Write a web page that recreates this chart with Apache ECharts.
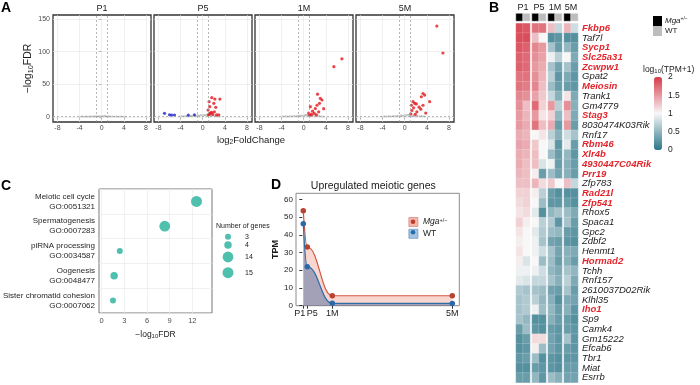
<!DOCTYPE html>
<html><head><meta charset="utf-8">
<script src="https://cdn.jsdelivr.net/npm/echarts@6/dist/echarts.min.js"></script>
<style>html,body{margin:0;padding:0;background:#fff}#c{width:700px;height:385px}</style>
</head><body><div id="c"></div>
<script>
// ---------------- DATA ----------------
const volcanoPanels = ['P1', 'P5', '1M', '5M'];
const volcanoXTicks = [-8, -4, 0, 4, 8];
const volcanoYTicks = [0, 50, 100, 150];
const volcanoGray = [
  [[-4,0.3],[-3.6,0.5],[-3.2,0.4],[-2.8,0.6],[-2.5,0.3],[-2.1,0.5],[-1.8,0.7],[-1.5,0.4],[-1.2,0.9],[-0.9,0.6],[-0.6,1.1],[-0.3,0.8],[0,1.2],[0.3,0.9],[0.6,1.4],[0.9,0.7],[1.2,1.0],[1.5,0.5],[1.9,0.8],[2.3,0.4],[2.7,0.6],[3.1,0.3],[3.5,0.5],[3.9,0.4],[4.3,0.3]],
  [[-4.2,0.8],[-3.8,1.2],[-3.4,0.9],[-3,1.5],[-2.6,1.1],[-2.2,1.8],[-1.9,1.3],[-1.5,2],[-1.2,1.6],[-0.9,2.4],[-0.6,1.9],[-0.3,2.8],[0,2.2],[0.3,3.1],[0.5,2.5],[0.8,3.5],[1.1,2.8],[1.4,1.9],[1.8,2.4],[2.2,1.5],[2.6,1.1],[3,0.7]],
  [[-3.8,0.5],[-3.3,0.9],[-2.9,0.6],[-2.5,1.2],[-2.1,0.8],[-1.7,1.5],[-1.3,1.1],[-1,1.9],[-0.7,1.4],[-0.4,2.3],[-0.1,1.7],[0.2,2.6],[0.4,3.4],[0.6,2.1],[0.8,3.8],[1.0,2.4],[1.3,1.6],[1.6,2.2],[2.0,1.3],[2.4,0.9],[2.8,1.5],[3.2,0.7],[3.6,0.4]],
  [[-4.1,0.4],[-3.7,0.8],[-3.3,0.6],[-2.9,1.1],[-2.5,0.7],[-2.1,1.4],[-1.7,0.9],[-1.3,1.8],[-0.9,1.2],[-0.6,2.4],[-0.3,1.6],[0,2.9],[0.3,2.0],[0.6,3.3],[0.9,2.3],[1.2,1.5],[1.5,2.6],[1.9,1.1],[2.3,1.8],[2.7,0.9],[3.1,1.3],[3.5,0.6]]
];
const volcanoRed = [
  [],
  [[1.64,29.6],[2.2,27.5],[3.1,27.5],[1.15,23.4],[2.0,21],[1.27,15.8],[2.36,14.8],[0.97,10.7],[1.6,7.2],[2.5,3.2],[1.2,4.5],[1.8,4.0],[1.4,6],[2.1,8],[1.05,3.5],[2.9,3.4]],
  [[5.45,77],[6.9,89],[2.5,35],[3.0,28.6],[2.85,21],[3.3,26],[2.4,18],[3.6,12.7],[2.1,13],[1.2,15.8],[1.6,9],[0.9,6],[1.4,4],[1.9,5.5],[2.3,3.5],[1.1,3],[2.7,8]],
  [[5.8,139],[6.9,98],[3.3,36],[3.6,33.6],[3.0,31],[4.5,23.4],[1.5,23.4],[1.8,21],[2.1,20],[3.3,18],[1.2,18],[2.6,15],[1.6,14],[2.9,12],[1.3,10],[2.2,8],[3.8,6],[1.1,5],[1.9,4]]
];
const volcanoBlue = [
  [],
  [[-6.9,5.6],[-6.0,3.4],[-5.6,3.0],[-5.1,3.1],[-2.6,2.9],[-1.5,3.3]],
  [],
  []
];

const heatGroups = ['P1', 'P5', '1M', '5M'];
const heatCols = ['Mga+/-', 'WT'];
const geneNames = ['Fkbp6','Taf7l','Sycp1','Slc25a31','Zcwpw1','Gpat2','Meiosin','Trank1','Gm4779','Stag3','8030474K03Rik','Rnf17','Rbm46','Xlr4b','4930447C04Rik','Prr19','Zfp783','Rad21l','Zfp541','Rhox5','Spaca1','Gpc2','Zdbf2','Henmt1','Hormad2','Tchh','Rnf157','2610037D02Rik','Klhl35','Iho1','Sp9','Camk4','Gm15222','Efcab6','Tbr1','Miat','Esrrb'];
const redGenes = ['Fkbp6','Sycp1','Slc25a31','Zcwpw1','Meiosin','Stag3','Rbm46','Xlr4b','4930447C04Rik','Prr19','Rad21l','Zfp541','Hormad2','Iho1'];
// columns: P1 Mga, P1 WT, P5 Mga, P5 WT, 1M Mga, 1M WT, 5M Mga, 5M WT  (log10(TPM+1))
const heatValues = [
[1.9,1.85,1.7,1.7,1.3,0.75,1.35,0.8],
[1.9,1.9,1.3,1.0,0.2,0.25,0.2,0.2],
[1.85,1.8,1.6,1.5,0.6,0.3,0.5,0.3],
[1.8,1.75,1.55,1.45,0.95,0.7,1.0,0.4],
[1.8,1.75,1.5,1.4,0.6,0.35,0.6,0.3],
[1.7,1.7,1.55,1.35,0.7,0.25,0.4,0.25],
[1.7,1.65,1.6,1.3,0.55,0.3,0.3,0.25],
[1.6,1.55,1.45,1.25,0.75,0.45,1.1,0.4],
[1.55,1.3,1.75,1.2,1.5,0.7,1.55,0.45],
[1.5,1.35,1.5,1.1,1.2,0.5,1.3,0.4],
[1.5,1.4,1.7,1.3,1.4,0.3,1.5,0.3],
[1.4,1.35,1.0,1.1,0.7,0.45,0.8,0.6],
[1.45,1.4,1.25,1.0,0.85,0.25,0.9,0.3],
[1.4,1.35,1.3,1.0,0.55,0.3,0.5,0.25],
[1.4,1.3,1.3,0.85,0.95,0.3,0.45,0.3],
[1.35,1.3,1.05,0.3,0.55,0.35,0.45,0.3],
[1.3,1.3,1.35,1.15,1.25,1.0,1.3,0.75],
[1.2,1.2,1.05,0.7,0.3,0.2,0.2,0.2],
[1.15,1.2,1.0,0.55,0.25,0.25,0.3,0.2],
[1.1,1.15,0.9,0.2,0.5,0.6,0.55,0.4],
[1.2,1.05,1.0,0.7,0.65,0.25,0.6,0.3],
[1.1,1.0,0.9,0.65,0.55,0.5,0.3,0.25],
[1.05,1.0,0.95,0.6,0.35,0.3,0.25,0.2],
[1.1,1.0,0.95,0.8,0.6,0.35,0.45,0.4],
[1.05,0.85,1.0,0.55,0.55,0.3,0.45,0.3],
[0.95,0.95,0.95,0.8,0.5,0.4,0.6,0.5],
[0.9,0.85,0.75,0.75,0.6,0.45,0.7,0.4],
[0.65,0.6,0.6,0.55,0.35,0.3,0.6,0.3],
[0.6,0.65,0.7,0.5,0.45,0.2,0.4,0.35],
[0.6,0.65,0.95,0.55,0.5,0.3,0.45,0.25],
[0.6,0.5,0.2,0.2,0.45,0.3,0.3,0.2],
[0.3,0.55,0.25,0.2,0.3,0.25,0.3,0.25],
[0.2,0.3,1.15,1.15,0.35,0.25,0.6,0.25],
[0.2,0.25,1.05,0.55,0.35,0.25,0.3,0.25],
[0.25,0.3,0.55,0.2,0.25,0.2,0.25,0.25],
[0.2,0.2,0.3,0.25,0.25,0.2,0.3,0.3],
[0.3,0.3,0.5,0.25,0.55,0.45,0.35,0.35]
];
const colorbarTicks = [0, 0.5, 1, 1.5, 2];

const goTerms = ['Meiotic cell cycle\nGO:0051321','Spermatogenesis\nGO:0007283','piRNA processing\nGO:0034587','Oogenesis\nGO:0048477','Sister chromatid cohesion\nGO:0007062'];
const goFDR = [12.55, 8.35, 2.4, 1.65, 1.5];
const goCount = [15, 14, 3, 4, 3];
const goXTicks = [0, 3, 6, 9, 12];
const sizeLegendValues = [3, 4, 14, 15];

const tpmLabels = ['P1', 'P5', '1M', '5M'];
const tpmDays = [1, 5, 30, 150];
const tpmMga = [53.5, 33.1, 5.6, 5.6];
const tpmWT = [46.2, 22.0, 1.35, 1.3];
const tpmYTicks = [0, 10, 20, 30, 40, 50, 60];

// ---------------- BUILD ----------------
const FONT = 'Liberation Sans, Arial, sans-serif';
const grids = [], xAxes = [], yAxes = [], series = [], graphics = [];
const G = o => Object.assign({outerBoundsMode: 'none', containLabel: false}, o);
const txt = (text, x, y, o = {}) => graphics.push({type: 'text', x, y, z: 100, rotation: o.rot || 0,
  style: Object.assign({text, fontFamily: FONT, fontSize: 10, fill: '#1a1a1a', align: 'center', verticalAlign: 'middle'}, o.style || {})});
const sub = (fs, color) => ({a: {fontSize: fs, fontFamily: FONT, color, fill: color},
  b: {fontSize: fs * 0.7, fontFamily: FONT, color, fill: color, verticalAlign: 'bottom', padding: [fs * 0.4, 0, 0, 0]}});

// Panel A : volcano
const vLefts = [53, 154, 255, 356];
volcanoPanels.forEach((p, i) => {
  grids.push(G({left: vLefts[i], top: 15, width: 98, height: 107, show: true, borderColor: '#333', borderWidth: 1.3, backgroundColor: '#fff'}));
  xAxes.push({gridIndex: i, type: 'value', min: -8.8, max: 8.9,
    axisLabel: {customValues: volcanoXTicks, fontSize: 7, color: '#4d4d4d', margin: 3, fontFamily: FONT},
    axisTick: {customValues: volcanoXTicks, length: 2.5, lineStyle: {color: '#333', width: 0.8}},
    axisLine: {show: false}, splitLine: {show: false}});
  const y = {gridIndex: i, type: 'value', min: -7.6, max: 156,
    axisLabel: {show: i === 0, customValues: volcanoYTicks, fontSize: 7, color: '#4d4d4d', margin: 3, fontFamily: FONT},
    axisTick: {show: i === 0, customValues: volcanoYTicks, length: 2.5, lineStyle: {color: '#333', width: 0.8}},
    axisLine: {show: false}, splitLine: {show: false}};
  if (i === 0) {
    y.name = '{a|−log}{b|10}{a|FDR}';
    y.nameLocation = 'middle'; y.nameGap = 19;
    y.nameTextStyle = {rich: sub(10.5, '#1a1a1a')};
  }
  yAxes.push(y);
  series.push({type: 'scatter', xAxisIndex: i, yAxisIndex: i, data: [], z: 1, silent: true,
    markLine: {silent: true, symbol: 'none', animation: false, label: {show: false},
      lineStyle: {color: '#e6e6e6', width: 0.6, type: 'solid'},
      data: volcanoXTicks.map(v => ({xAxis: v})).concat(volcanoYTicks.map(v => ({yAxis: v})))}});
  series.push({type: 'scatter', xAxisIndex: i, yAxisIndex: i, data: [], z: 2, silent: true,
    markLine: {silent: true, symbol: 'none', animation: false, label: {show: false},
      lineStyle: {color: '#9a9a9a', width: 0.7, type: [2, 2]},
      data: [{xAxis: -1}, {xAxis: 1}, {yAxis: 1.3}]}});
  series.push({type: 'scatter', xAxisIndex: i, yAxisIndex: i, data: volcanoGray[i], symbolSize: 2.2, z: 3,
    itemStyle: {color: '#b3b3b3'}, silent: true});
  series.push({type: 'scatter', xAxisIndex: i, yAxisIndex: i, data: volcanoBlue[i], symbolSize: 3.2, z: 4,
    itemStyle: {color: '#1e24c8'}, silent: true});
  series.push({type: 'scatter', xAxisIndex: i, yAxisIndex: i, data: volcanoRed[i], symbolSize: 3.2, z: 4,
    itemStyle: {color: '#e3161c'}, silent: true});
  txt(p, vLefts[i] + 49, 9, {style: {fontSize: 9}});
});
txt('{a|log}{b|2}{a|FoldChange}', 251, 140, {style: {rich: sub(9.5, '#1a1a1a')}});

// Panel B : heatmap
const hLefts = [516, 532, 548, 564];
const hWidth = 14;
const heatSeriesIdx = [], annoSeriesIdx = [];
heatGroups.forEach((g, gi) => {
  let gIdx = grids.length;
  grids.push(G({left: hLefts[gi], top: 23.4, width: hWidth, height: 359.2}));
  xAxes.push({gridIndex: gIdx, type: 'category', data: heatCols, show: false});
  yAxes.push({gridIndex: gIdx, type: 'category', data: geneNames, inverse: true, show: gi === 3,
    position: 'right', axisLine: {show: false}, axisTick: {show: false},
    axisLabel: {show: gi === 3, margin: 4, interval: 0,
      formatter: v => (redGenes.includes(v) ? '{r|' : '{k|') + v + '}',
      rich: {r: {color: '#e3262d', fontWeight: 'bold', fontStyle: 'italic', fontSize: 9.5, fontFamily: FONT},
             k: {color: '#1a1a1a', fontStyle: 'italic', fontSize: 9.5, fontFamily: FONT}}}});
  const data = [];
  geneNames.forEach((n, r) => { for (let c = 0; c < 2; c++) data.push([c, r, heatValues[r][gi * 2 + c]]); });
  heatSeriesIdx.push(series.length);
  series.push({type: 'heatmap', xAxisIndex: gIdx, yAxisIndex: gIdx, data, silent: true,
    itemStyle: {borderColor: 'rgba(255,255,255,0.35)', borderWidth: 0.5}});
  gIdx = grids.length;
  grids.push(G({left: hLefts[gi], top: 13.5, width: hWidth, height: 7.5}));
  xAxes.push({gridIndex: gIdx, type: 'category', data: heatCols, show: false});
  yAxes.push({gridIndex: gIdx, type: 'category', data: ['genotype'], show: false});
  annoSeriesIdx.push(series.length);
  series.push({type: 'heatmap', xAxisIndex: gIdx, yAxisIndex: gIdx, data: [[0, 0, 1], [1, 0, 0]], silent: true,
    itemStyle: {borderColor: '#fff', borderWidth: 0.5}});
  txt(g, hLefts[gi] + hWidth / 2, 7.5, {style: {fontSize: 9}});
});
{
  const gIdx = grids.length;
  grids.push(G({left: 654, top: 77, width: 8, height: 73}));
  xAxes.push({gridIndex: gIdx, type: 'value', show: false});
  yAxes.push({gridIndex: gIdx, type: 'value', min: 0, max: 2, interval: 0.5, position: 'right',
    axisLine: {show: false}, splitLine: {show: false},
    axisTick: {show: true, inside: true, length: 2, lineStyle: {color: '#fff', width: 0.8}},
    axisLabel: {fontSize: 8.5, color: '#1a1a1a', margin: 6, fontFamily: FONT}});
}
graphics.push({type: 'rect', shape: {x: 653, y: 16, width: 9, height: 10}, style: {fill: '#000'}});
graphics.push({type: 'rect', shape: {x: 653, y: 26, width: 9, height: 10}, style: {fill: '#bdbdbd'}});
txt('{i|Mga}{s|+/−}', 665, 21, {style: {align: 'left', rich: {i: {fontStyle: 'italic', fontSize: 8, fontFamily: FONT, fill: '#1a1a1a'}, s: {fontSize: 5, fontFamily: FONT, fill: '#1a1a1a', verticalAlign: 'top', padding: [0, 0, 4, 0]}}}});
txt('WT', 665, 31, {style: {align: 'left', fontSize: 8}});
txt('{a|log}{b|10}{a|(TPM+1)}', 643, 70, {style: {align: 'left', rich: sub(8.5, '#1a1a1a')}});

// Panel C : GO dot plot
const sizeOf = n => 6 + 5 * Math.sqrt((n - 3) / 12);
{
  const gIdx = grids.length;
  grids.push(G({left: 99, top: 189, width: 113, height: 124, show: true, borderColor: '#777', borderWidth: 1, backgroundColor: '#fff'}));
  xAxes.push({gridIndex: gIdx, type: 'value', min: -0.35, max: 14.6, splitNumber: 5,
    axisLabel: {customValues: goXTicks, fontSize: 7.5, color: '#4d4d4d', margin: 4, fontFamily: FONT},
    axisTick: {customValues: goXTicks, length: 3, lineStyle: {color: '#555'}},
    axisLine: {show: false}, splitLine: {show: true, lineStyle: {color: '#ebebeb', width: 0.7}},
    name: '{a|−log}{b|10}{a|FDR}', nameLocation: 'middle', nameGap: 17,
    nameTextStyle: {rich: sub(8.5, '#1a1a1a')}});
  yAxes.push({gridIndex: gIdx, type: 'category', data: goTerms, inverse: true,
    axisLabel: {fontSize: 8, color: '#262626', lineHeight: 10, margin: 4, align: 'right', fontFamily: FONT},
    axisTick: {length: 3, alignWithLabel: true, lineStyle: {color: '#555'}}, axisLine: {show: false},
    splitLine: {show: true, lineStyle: {color: '#ebebeb', width: 0.7}}});
  series.push({type: 'scatter', xAxisIndex: gIdx, yAxisIndex: gIdx, silent: true, z: 5,
    data: goTerms.map((t, i) => [goFDR[i], t, goCount[i]]),
    symbolSize: d => sizeOf(d[2]), itemStyle: {color: '#4fc0ae', opacity: 1}});
}
txt('Number of genes', 216, 226.5, {style: {align: 'left', fontSize: 7}});
const legY = [236.7, 245, 257, 272.7];
sizeLegendValues.forEach((v, i) => {
  graphics.push({type: 'circle', shape: {cx: 228, cy: legY[i], r: sizeOf(v) / 2}, style: {fill: '#4fc0ae'}});
  txt(String(v), 245, legY[i], {style: {align: 'left', fontSize: 7}});
});

// Panel D : TPM lines
const dLabelMap = {1: '{a|P1}{b|P5}', 5: '', 30: '{c|1M}', 150: '{c|5M}'};
{
  const gIdx = grids.length;
  grids.push(G({left: 296, top: 193.3, width: 163.3, height: 112.4, show: true, borderColor: '#8c8c8c', borderWidth: 1, backgroundColor: '#fff'}));
  xAxes.push({gridIndex: gIdx, type: 'value', min: -6.3, max: 157,
    axisLabel: {customValues: tpmDays, formatter: v => dLabelMap[v] || '', margin: 3,
      rich: {a: {fontSize: 9, fontFamily: FONT, color: '#1a1a1a', padding: [0, 1.5, 0, 5.5]},
             b: {fontSize: 9, fontFamily: FONT, color: '#1a1a1a'},
             c: {fontSize: 9, fontFamily: FONT, color: '#1a1a1a'}}},
    axisTick: {customValues: tpmDays, length: 3, lineStyle: {color: '#333'}},
    axisLine: {show: false}, splitLine: {show: false}});
  yAxes.push({gridIndex: gIdx, type: 'value', min: 0, max: 63.4,
    axisLabel: {customValues: tpmYTicks, fontSize: 8, color: '#1a1a1a', margin: 3, fontFamily: FONT,
      formatter: v => tpmYTicks.includes(v) ? String(v) : ''},
    axisTick: {customValues: tpmYTicks, length: 3, lineStyle: {color: '#333'}},
    axisLine: {show: false}, splitLine: {show: false},
    name: 'TPM', nameLocation: 'middle', nameGap: 15,
    nameTextStyle: {fontSize: 9, fontWeight: 'bold', fontFamily: FONT, color: '#1a1a1a'}});
  series.push({type: 'line', name: 'Mga', xAxisIndex: gIdx, yAxisIndex: gIdx, z: 3,
    data: tpmDays.map((d, i) => [d, tpmMga[i]]), smooth: 0.45, smoothMonotone: 'x',
    symbol: 'circle', symbolSize: 5.5, itemStyle: {color: '#b9412f'},
    lineStyle: {color: '#d3573f', width: 1.2}, areaStyle: {color: 'rgba(236,150,135,0.55)'}});
  series.push({type: 'line', name: 'WT', xAxisIndex: gIdx, yAxisIndex: gIdx, z: 4,
    data: tpmDays.map((d, i) => [d, tpmWT[i]]), smooth: 0.45, smoothMonotone: 'x',
    symbol: 'circle', symbolSize: 5.5, itemStyle: {color: '#2a6aa8'},
    lineStyle: {color: '#2e6da4', width: 1.2}, areaStyle: {color: 'rgba(25,75,145,0.55)'}});
}
txt('Upregulated meiotic genes', 373.3, 186, {style: {fontSize: 10.5}});
graphics.push({type: 'circle', shape: {cx: 413, cy: 221.7, r: 2.3}, z: 101, style: {fill: '#c0392b'}});
graphics.push({type: 'circle', shape: {cx: 413, cy: 232.2, r: 2.3}, z: 101, style: {fill: '#1f6fb0'}});

txt('A', 1, 8, {style: {align: 'left', fontSize: 14, fontWeight: 'bold', fill: '#000'}});
txt('B', 489, 8, {style: {align: 'left', fontSize: 14, fontWeight: 'bold', fill: '#000'}});
txt('C', 1, 186, {style: {align: 'left', fontSize: 14, fontWeight: 'bold', fill: '#000'}});
txt('D', 271, 185, {style: {align: 'left', fontSize: 14, fontWeight: 'bold', fill: '#000'}});

const chart = echarts.init(document.getElementById('c'), null, {renderer: 'canvas'});
chart.setOption({
  animation: false,
  backgroundColor: '#fff',
  textStyle: {fontFamily: FONT},
  grid: grids, xAxis: xAxes, yAxis: yAxes, series,
  visualMap: [
    {type: 'continuous', min: 0, max: 2, seriesIndex: heatSeriesIdx, calculable: false, show: true,
     left: 654, top: 77, itemWidth: 8, itemHeight: 73, padding: 0, text: null, showLabel: false,
     inRange: {color: ['#2c7689', '#f7f7f7', '#d73a49']}},
    {type: 'piecewise', show: false, seriesIndex: annoSeriesIdx,
     pieces: [{value: 1, color: '#000000'}, {value: 0, color: '#bdbdbd'}]}
  ],
  legend: {left: 408.5, top: 217, orient: 'vertical', itemWidth: 9, itemHeight: 9, itemGap: 2, padding: 0,
    textStyle: {fontSize: 8.5, fontFamily: FONT, color: '#1a1a1a',
      rich: {i: {fontStyle: 'italic', fontSize: 8.5, fontFamily: FONT}, s: {fontSize: 5.5, fontFamily: FONT, verticalAlign: 'top', padding: [0, 0, 4, 0]}}},
    formatter: n => n === 'Mga' ? '{i|Mga}{s|+/−}' : n,
    data: [{name: 'Mga', icon: 'rect', itemStyle: {color: '#f2b8ac', borderColor: '#d98c7e', borderWidth: 0.8}},
           {name: 'WT', icon: 'rect', itemStyle: {color: '#a8c3df', borderColor: '#6d9cc8', borderWidth: 0.8}}]},
  graphic: graphics
});
</script>
</body></html>
